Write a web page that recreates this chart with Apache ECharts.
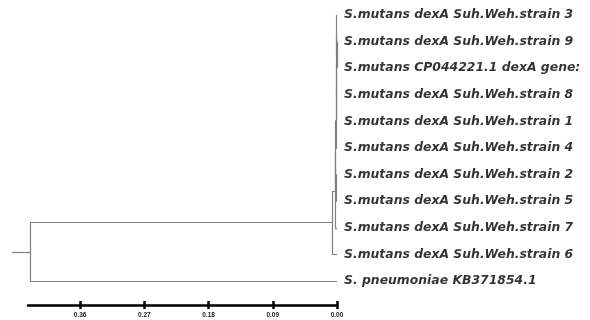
<!DOCTYPE html>
<html>
<head>
<meta charset="utf-8">
<script src="https://cdn.jsdelivr.net/npm/echarts@6/dist/echarts.min.js"></script>
<style>html,body{margin:0;padding:0;background:#fff}#c{width:590px;height:320px}</style>
</head>
<body>
<div id="c"></div>
<script>
// Leaves, top to bottom
const leafNames = [
  'S.mutans dexA Suh.Weh.strain 3',
  'S.mutans dexA Suh.Weh.strain 9',
  'S.mutans CP044221.1 dexA gene:',
  'S.mutans dexA Suh.Weh.strain 8',
  'S.mutans dexA Suh.Weh.strain 1',
  'S.mutans dexA Suh.Weh.strain 4',
  'S.mutans dexA Suh.Weh.strain 2',
  'S.mutans dexA Suh.Weh.strain 5',
  'S.mutans dexA Suh.Weh.strain 7',
  'S.mutans dexA Suh.Weh.strain 6',
  'S. pneumoniae KB371854.1'
];
const leafHeights = [0, 0, 0, 0, 0, 0, 0, 0, 0, 0, 0];
// Internal nodes (distance from tips)
const nodeIds = ['root', 'A', 'B', 'C', 'D', 'E', 'G', 'H', 'I', 'J'];
const nodeHeights = [0.430, 0.0065, 0.0030, 0.0018, 0.0013, 0.0008, 0.0010, 0.0007, 0.0004, 0.0002];
const nodeChildren = [
  ['A', 'L10'],
  ['B', 'L9'],
  ['C', 'L8'],
  ['D', 'E'],
  ['G', 'L5'],
  ['L6', 'L7'],
  ['H', 'L4'],
  ['I', 'L3'],
  ['L0', 'J'],
  ['L1', 'L2']
];
const rootStubStart = 0.4556;
const scaleTicks = [0, 0.09, 0.18, 0.27, 0.36];
const axisMax = 0.433;

// Build tree geometry from data
const pos = {};
leafNames.forEach((n, i) => { pos['L' + i] = { x: leafHeights[i], y: i }; });
function place(id) {
  if (pos[id]) return pos[id];
  const k = nodeIds.indexOf(id);
  const ch = nodeChildren[k].map(place);
  const ys = ch.map(c => c.y);
  pos[id] = { x: nodeHeights[k], y: (Math.min(...ys) + Math.max(...ys)) / 2 };
  return pos[id];
}
place('root');
const segs = [];
nodeIds.forEach((id, k) => {
  const p = pos[id];
  const ch = nodeChildren[k].map(c => pos[c]);
  const ys = ch.map(c => c.y);
  segs.push({ coords: [[p.x, Math.min(...ys)], [p.x, Math.max(...ys)]] });
  ch.forEach(c => segs.push({ coords: [[p.x, c.y], [c.x, c.y]] }));
});
segs.push({ coords: [[rootStubStart, pos.root.y], [pos.root.x, pos.root.y]] });

const leafPts = leafNames.map((n, i) => [leafHeights[i], i, n]);

const chart = echarts.init(document.getElementById('c'), null, { renderer: 'canvas' });
chart.setOption({
  animation: false,
  backgroundColor: '#fff',
  grid: { left: 28, right: 253, top: 15, height: 266 },
  xAxis: [{
    type: 'value', inverse: true, min: 0, max: axisMax, position: 'bottom', offset: 24,
    splitLine: { show: false },
    axisLine: { show: true, onZero: false, lineStyle: { color: '#000', width: 2.5 } },
    axisTick: { show: true, customValues: scaleTicks, length: 4, lineStyle: { color: '#000', width: 2.5 } },
    axisLabel: { customValues: scaleTicks, formatter: v => v.toFixed(2), fontSize: 6.5, fontWeight: 'bold', color: '#222', margin: 7, fontFamily: 'Liberation Sans' }
  }, {
    type: 'value', inverse: true, min: 0, max: axisMax, position: 'top', offset: -290,
    splitLine: { show: false },
    axisLine: { show: false, onZero: false },
    axisTick: { show: true, inside: false, customValues: scaleTicks, length: 4, lineStyle: { color: '#000', width: 2.5 } },
    axisLabel: { show: false }
  }],
  yAxis: { type: 'value', inverse: true, min: 0, max: 10, show: false },
  series: [{
    type: 'lines', coordinateSystem: 'cartesian2d', polyline: false, clip: false, silent: true,
    lineStyle: { color: '#7f7f7f', width: 1.2, opacity: 1 },
    data: segs
  }, {
    type: 'scatter', symbolSize: 0, silent: true, clip: false,
    data: leafPts,
    label: {
      show: true, position: 'right', distance: 7,
      formatter: p => p.value[2],
      fontFamily: 'DejaVu Sans', fontStyle: 'italic', fontWeight: 'bold', fontSize: 12.4, color: '#000'
    }
  }]
});
</script>
</body>
</html>
